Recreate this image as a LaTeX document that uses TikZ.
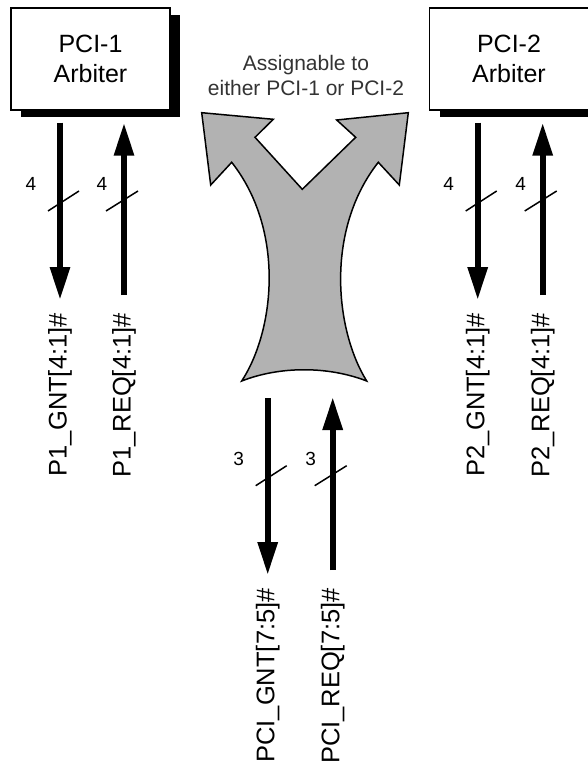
\documentclass[tikz,border=0pt]{standalone}
\usepackage{fontspec}
\setmainfont{Liberation Sans}
\usetikzlibrary{arrows.meta,shadows,positioning,calc}

\begin{document}
\begin{tikzpicture}
[x=1pt,y=-1pt,
%
arbiter/.style={shape=rectangle,draw=black,line width=1.5pt,fill=white,
   minimum width=159pt,minimum height=102pt,inner sep=0pt,align=center,
   font=\fontsize{25}{30}\selectfont,
   drop shadow={shadow xshift=10pt,shadow yshift=-7pt,fill=black,opacity=1}},
signal/.style={rotate=90,anchor=east,inner sep=0pt,font=\fontsize{25.5}{30}\selectfont},
buswidth/.style={inner sep=0pt,font=\fontsize{19}{20}\selectfont},
note/.style={inner sep=0pt,align=center,text=black!80,font=\fontsize{21}{25}\selectfont},
%
bus/.style={line width=6pt,-{Triangle[length=33pt,width=19pt]}},
slash/.style={line width=1.5pt},
forkarrow/.style={draw=black,line width=1.5pt,fill=black!30}]
%
\useasboundingbox (0,0) rectangle (587,767);
%
% arbiters
\node (arb1) [arbiter] at (90.5,59) {PCI-1\\Arbiter};
\node (arb2) [arbiter] at (509,59) {PCI-2\\Arbiter};
%%
% shared grant/request lines
\node (assign) [note] at (306,75.5) {Assignable to\\either PCI-1 or PCI-2};
\draw[forkarrow] (201.7,112.7) -- (273.3,119.3) -- (255,137.3) -- (302.3,189.3)
   -- (355.7,137.3) -- (336.7,120) -- (408.3,112.7) -- (399.3,185) -- (378.3,162.3)
   .. controls (325,230) and (335,330) .. (366.7,381)
   .. controls (328,366) and (280,366) .. (241.7,381)
   .. controls (275,330) and (285,230) .. (231.7,162.3) -- (210.7,185) -- cycle;
\coordinate (forkfoot) at (305,381);
%%
% signal names
\node (g1) [signal] at (60,313) {P1\_GNT[4:1]\#};
\node (r1) [signal] at (124,313) {P1\_REQ[4:1]\#};
\node (g2) [signal] at (477.7,313) {P2\_GNT[4:1]\#};
\node (r2) [signal] at (542.7,313) {P2\_REQ[4:1]\#};
\node (g3) [signal] at (267.7,588) {PCI\_GNT[7:5]\#};
\node (r3) [signal] at (332.7,588) {PCI\_REQ[7:5]\#};
%%
% buses
\draw[bus,shorten <=12pt,shorten >=13pt] (arb1.south -| g1.east) -- (g1.east);
\draw[bus,shorten <=18pt,shorten >=12pt] (r1.east) -- (arb1.south -| r1.east);
\draw[bus,shorten <=12pt,shorten >=13pt] (arb2.south -| g2.east) -- (g2.east);
\draw[bus,shorten <=18pt,shorten >=12pt] (r2.east) -- (arb2.south -| r2.east);
\draw[bus,shorten <=17pt,shorten >=13pt] (forkfoot -| g3.east) -- (g3.east);
\draw[bus,shorten <=18pt,shorten >=16pt] (r3.east) -- (forkfoot -| r3.east);
%%
% bus widths
\foreach \x/\y/\n [count=\i] in {60/201/4,477.7/201/4,267.7/475.7/3}
{
   \draw[slash] (\x-12,\y+10) -- (\x+19,\y-10);
   \node (wg\i) [buswidth] at (\x-29,\y-17) {\n};
}
\foreach \x/\y/\n [count=\i] in {124/201/4,542.7/201/4,332.7/475.7/3}
{
   \draw[slash] (\x-18,\y+10) -- (\x+14,\y-10);
   \node (wr\i) [buswidth] at (\x-22,\y-17) {\n};
}
\end{tikzpicture}
\end{document}
